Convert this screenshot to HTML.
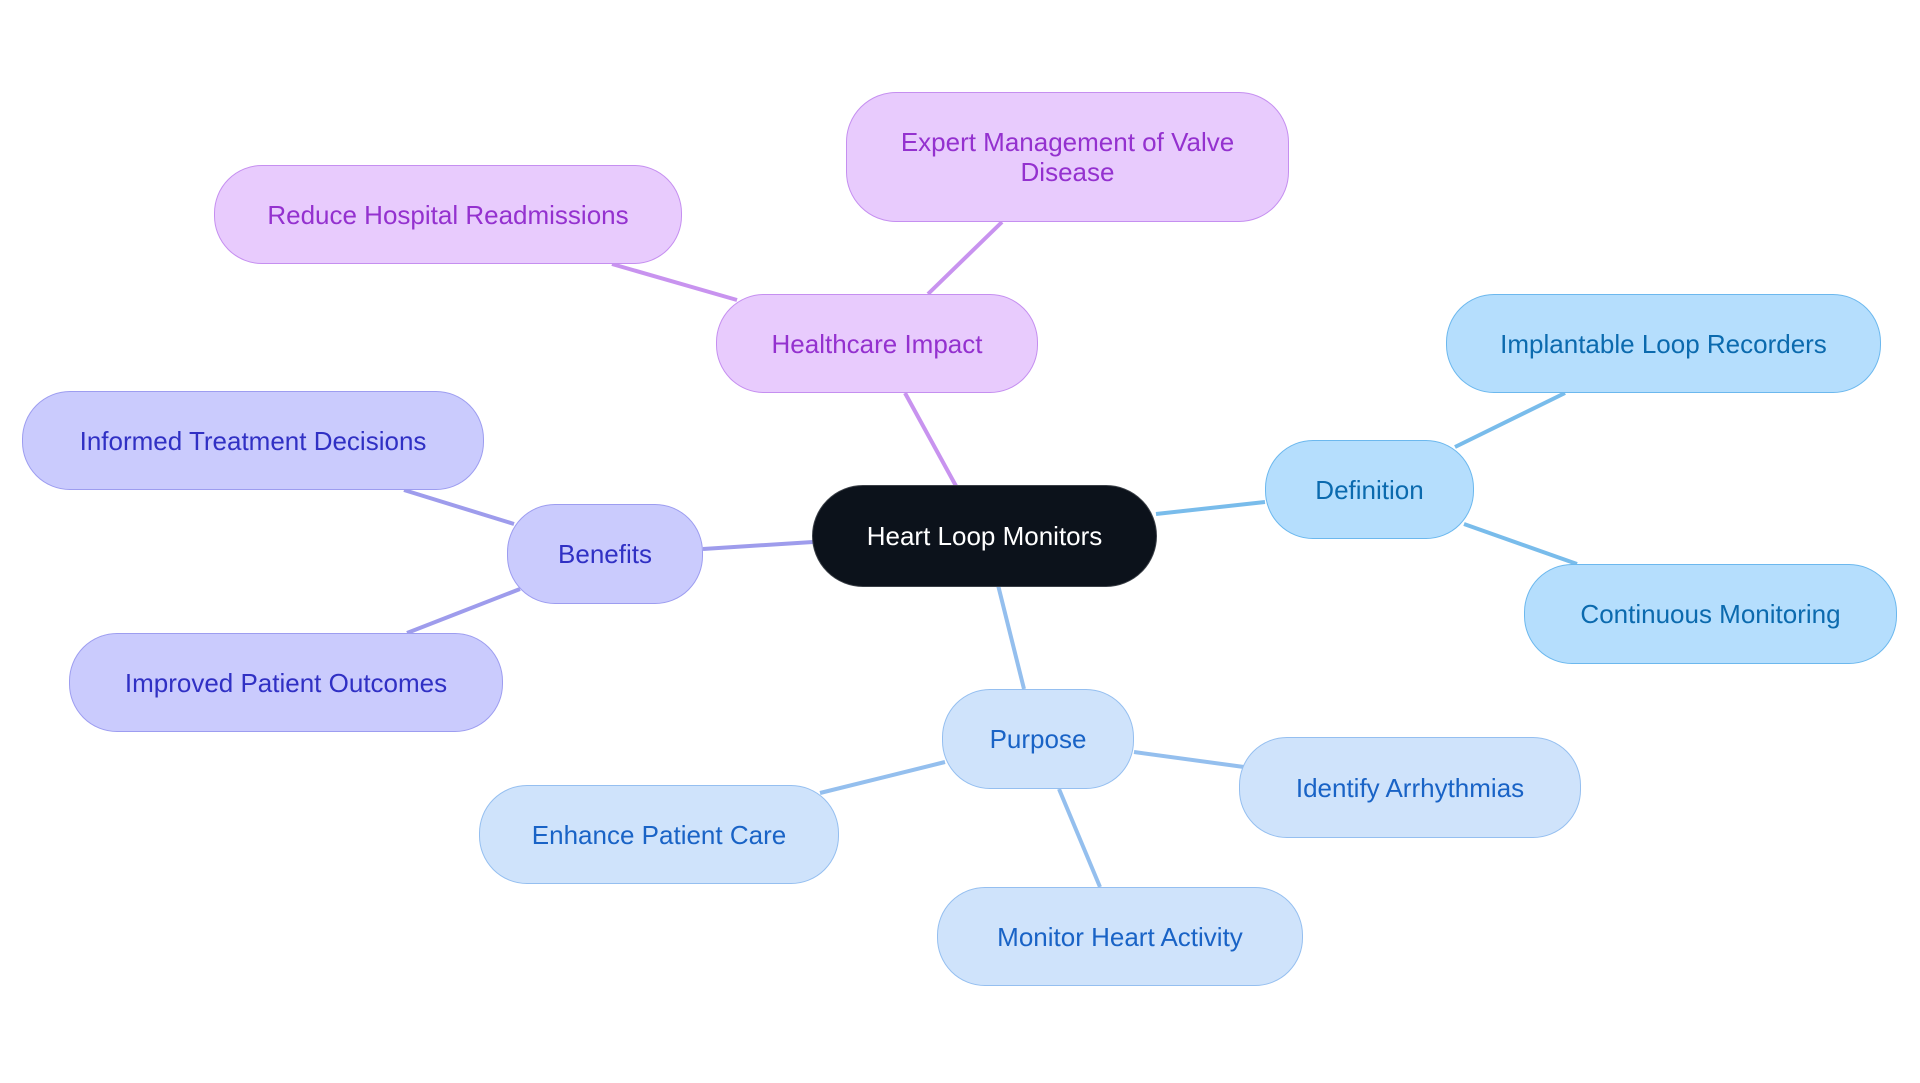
<!DOCTYPE html>
<html><head><meta charset="utf-8"><style>
body{margin:0;width:1920px;height:1083px;background:#fff;position:relative;overflow:hidden;font-family:"Liberation Sans",sans-serif}
.n{position:absolute;box-sizing:border-box;display:flex;align-items:center;justify-content:center;text-align:center;font-size:26px;border:1.5px solid;border-radius:48px;line-height:30px}
.p{background:#e8cbfd;border-color:#c58ff0;color:#9431cf}
.v{background:#cacbfd;border-color:#9d9df0;color:#3030c4}
.b{background:#b5defd;border-color:#6cb8ee;color:#0b6aae}
.u{background:#cfe3fb;border-color:#95bff0;color:#1963c6}
svg{position:absolute;left:0;top:0}
</style></head><body>
<svg width="1920" height="1083">
<g stroke-width="4" fill="none">
<line x1="956" y1="486" x2="905" y2="393" stroke="#c893ef"/>
<line x1="928" y1="294" x2="1002" y2="222" stroke="#c893ef"/>
<line x1="737" y1="300" x2="612" y2="264" stroke="#c893ef"/>
<line x1="813" y1="542" x2="703" y2="549" stroke="#9e9cec"/>
<line x1="514" y1="524" x2="404" y2="490" stroke="#9e9cec"/>
<line x1="520" y1="589" x2="407" y2="633" stroke="#9e9cec"/>
<line x1="1156" y1="514" x2="1265" y2="502" stroke="#79bceb"/>
<line x1="1455" y1="447" x2="1565" y2="393" stroke="#79bceb"/>
<line x1="1464" y1="524" x2="1577" y2="564" stroke="#79bceb"/>
<line x1="998" y1="585" x2="1024" y2="689" stroke="#94bfee"/>
<line x1="1134" y1="752" x2="1244" y2="767" stroke="#94bfee"/>
<line x1="945" y1="762" x2="820" y2="793" stroke="#94bfee"/>
<line x1="1059" y1="789" x2="1100" y2="887" stroke="#94bfee"/>
</g></svg>
<div class="n" style="left:812px;top:485px;width:345px;height:102px;background:#0c121b;border-color:#3a3f46;color:#fff;border-radius:51px">Heart Loop Monitors</div>
<div class="n p" style="left:716px;top:294px;width:322px;height:99px">Healthcare Impact</div>
<div class="n p" style="left:846px;top:92px;width:443px;height:130px;border-radius:50px;padding:0 20px">Expert Management of Valve Disease</div>
<div class="n p" style="left:214px;top:165px;width:468px;height:99px">Reduce Hospital Readmissions</div>
<div class="n v" style="left:507px;top:504px;width:196px;height:100px">Benefits</div>
<div class="n v" style="left:22px;top:391px;width:462px;height:99px">Informed Treatment Decisions</div>
<div class="n v" style="left:69px;top:633px;width:434px;height:99px">Improved Patient Outcomes</div>
<div class="n b" style="left:1265px;top:440px;width:209px;height:99px">Definition</div>
<div class="n b" style="left:1446px;top:294px;width:435px;height:99px">Implantable Loop Recorders</div>
<div class="n b" style="left:1524px;top:564px;width:373px;height:100px">Continuous Monitoring</div>
<div class="n u" style="left:942px;top:689px;width:192px;height:100px">Purpose</div>
<div class="n u" style="left:1239px;top:737px;width:342px;height:101px">Identify Arrhythmias</div>
<div class="n u" style="left:479px;top:785px;width:360px;height:99px">Enhance Patient Care</div>
<div class="n u" style="left:937px;top:887px;width:366px;height:99px">Monitor Heart Activity</div>
</body></html>
